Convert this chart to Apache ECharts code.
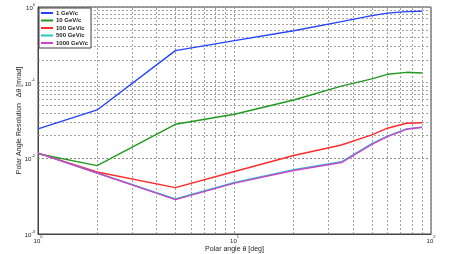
<!DOCTYPE html>
<html><head><meta charset="utf-8">
<script src="https://cdn.jsdelivr.net/npm/echarts@6/dist/echarts.min.js"></script>
<style>html,body{margin:0;padding:0;background:#fff}#c{width:449px;height:254px}</style>
</head><body><div id="c"></div>
<script>
var angles = [1, 2, 5, 10, 20, 35, 50, 60, 75, 90];
var seriesNames = ['1 GeV/c', '10 GeV/c', '100 GeV/c', '500 GeV/c', '1000 GeV/c'];
var res1 = [0.0245, 0.0436, 0.265, 0.359, 0.486, 0.64, 0.77, 0.83, 0.87, 0.88];
var res10 = [0.0115, 0.0080, 0.0282, 0.0383, 0.059, 0.090, 0.112, 0.129, 0.137, 0.134];
var res100 = [0.0117, 0.0066, 0.0041, 0.0067, 0.0109, 0.0150, 0.0204, 0.0250, 0.0291, 0.0295];
var res500 = [0.0117, 0.0064, 0.0029, 0.0048, 0.0071, 0.0090, 0.0156, 0.0197, 0.0245, 0.0258];
var res1000 = [0.0117, 0.0064, 0.00285, 0.0047, 0.0069, 0.0088, 0.0153, 0.0194, 0.0242, 0.0257];
var xMinorGrid = [2, 3, 4, 5, 6, 7, 8, 9, 20, 30, 40, 50, 60, 70, 80, 90];
var yMinorGrid = [0.002, 0.003, 0.004, 0.005, 0.006, 0.007, 0.008, 0.009,
                  0.02, 0.03, 0.04, 0.05, 0.06, 0.07, 0.08, 0.09,
                  0.2, 0.3, 0.4, 0.5, 0.6, 0.7, 0.8, 0.9];
var colors = ['#2244ff', '#1f9a1f', '#ff2a2a', '#22c4c4', '#cc44cc'];
var allRes = [res1, res10, res100, res500, res1000];

function expLabel(v) {
  var e = Math.round(Math.log10(v));
  return '{b|10}{s|' + e + '}';
}
var rich = {
  b: {fontSize: 6, fontFamily: 'Liberation Sans', color: '#222', verticalAlign: 'bottom'},
  s: {fontSize: 4, fontFamily: 'Liberation Sans', color: '#222', verticalAlign: 'top', padding: [0,0,5,0]}
};
var gridStyle = {color: '#8a8a8a', width: 0.8, type: [2, 2]};

var series = seriesNames.map(function (n, i) {
  return {
    name: n, type: 'line', z: 3,
    data: angles.map(function (a, j) { return [a, allRes[i][j]]; }),
    symbol: 'none', lineStyle: {color: colors[i], width: 1.4}, itemStyle: {color: colors[i]},
    emphasis: {disabled: true}
  };
});
series.push({
  name: 'grid', type: 'line', data: [], z: 1, silent: true,
  markLine: {
    silent: true, symbol: 'none', z: 1, animation: false,
    label: {show: false}, lineStyle: gridStyle,
    data: xMinorGrid.map(function (v) { return {xAxis: v}; })
      .concat(yMinorGrid.map(function (v) { return {yAxis: v}; }))
  }
});

var chart = echarts.init(document.getElementById('c'), null, {renderer: 'canvas'});
chart.setOption({
  animation: false,
  backgroundColor: '#fff',
  grid: {left: 38, right: 18, top: 7, bottom: 20, show: true, borderColor: '#444', borderWidth: 1,
         backgroundColor: 'transparent', outerBoundsMode: 'none', containLabel: false},
  legend: {
    data: seriesNames, orient: 'vertical', left: 39, top: 8,
    backgroundColor: '#fff', borderColor: '#444', borderWidth: 1,
    padding: [2, 3, 2, 2], itemGap: 1.5, itemWidth: 12, itemHeight: 2,
    icon: 'rect',
    textStyle: {fontSize: 6, fontFamily: 'Liberation Sans', fontWeight: 'bold', color: '#222', padding: [0,0,0,-2]}
  },
  xAxis: {
    type: 'log', logBase: 10, min: 1, max: 100,
    name: 'Polar angle θ [deg]', nameLocation: 'middle', nameGap: 12, nameMoveOverlap: false,
    nameTextStyle: {fontSize: 7, fontFamily: 'Liberation Sans', color: '#222', verticalAlign: 'top'},
    axisLine: {show: true, lineStyle: {color: '#444'}},
    axisTick: {show: false},
    axisLabel: {formatter: expLabel, rich: rich, margin: 1},
    splitLine: {show: true, lineStyle: gridStyle}
  },
  yAxis: {
    type: 'log', logBase: 10, min: 0.001, max: 1,
    name: 'Polar Angle Resolution   Δθ [mrad]', nameLocation: 'middle', nameGap: 15, nameMoveOverlap: false,
    nameTextStyle: {fontSize: 7, fontFamily: 'Liberation Sans', color: '#222'},
    axisLine: {show: true, lineStyle: {color: '#444'}},
    axisTick: {show: false},
    axisLabel: {formatter: expLabel, rich: rich, margin: 3},
    splitLine: {show: true, lineStyle: gridStyle}
  },
  series: series
});
</script></body></html>
